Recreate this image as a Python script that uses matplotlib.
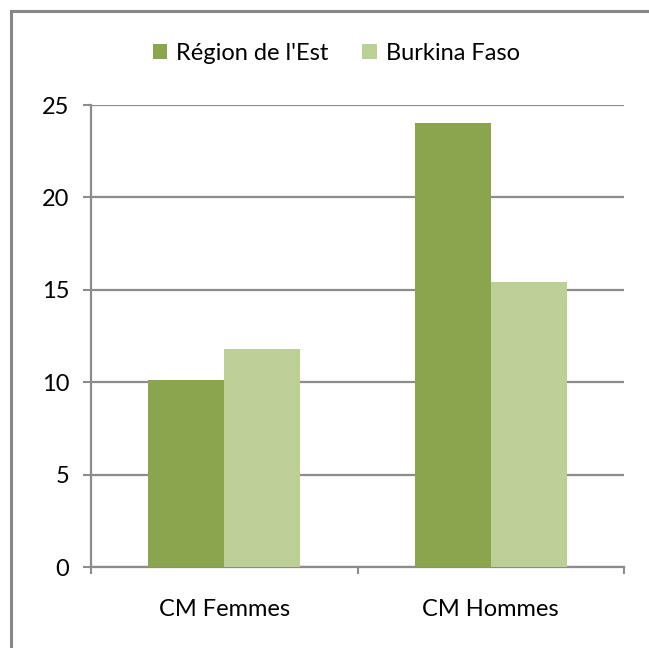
import matplotlib.pyplot as plt
import numpy as np
from matplotlib.patches import Rectangle

plt.rcParams['font.family'] = ['Lato', 'DejaVu Sans']

categories = ['CM Femmes', 'CM Hommes']
series_names = ["Région de l'Est", 'Burkina Faso']
region_est = [10.1, 24.0]
burkina = [11.8, 15.4]
colors = ['#8ba54e', '#bbcf97']
yticks = [0, 5, 10, 15, 20, 25]

W, H = 649, 648
fig = plt.figure(figsize=(W / 100, H / 100), dpi=100)
# plot area in pixels: x 91..624, y 105..567
ax = fig.add_axes([91 / W, 1 - 567 / H, (624 - 91) / W, (567 - 105) / H])

grey = '#8c8c8c'
fs = 17
x = np.arange(len(categories))
bw = 0.285
ax.bar(x - bw / 2, region_est, bw, color=colors[0], label=series_names[0], zorder=3)
ax.bar(x + bw / 2, burkina, bw, color=colors[1], label=series_names[1], zorder=3)

ax.set_xlim(-0.5, len(categories) - 0.5)
ax.set_ylim(0, 25)
ax.set_yticks(yticks)
ax.yaxis.grid(True, color=grey, linewidth=1.6, zorder=0)
ax.set_axisbelow(True)

# category labels centred, ticks on the category boundaries
ax.set_xticks(x)
ax.set_xticklabels(categories, fontsize=fs)
ax.set_xticks(np.arange(-0.5, len(categories)), minor=True)
ax.tick_params(axis='x', which='major', length=0, pad=23)
ax.tick_params(axis='x', which='minor', length=5, width=1.5, color=grey)
ax.tick_params(axis='y', length=5.8, width=1.5, color=grey, labelsize=fs, pad=10)

for s in ['top', 'right']:
    ax.spines[s].set_visible(False)
for s in ['left', 'bottom']:
    ax.spines[s].set_color(grey)
    ax.spines[s].set_linewidth(1.6)

ax.legend(loc='lower center', bbox_to_anchor=(0.46, 1.0), bbox_transform=ax.transAxes,
          ncol=2, frameon=False, fontsize=fs, handlelength=0.6, handleheight=0.6,
          handletextpad=0.38, columnspacing=1.44, borderaxespad=1.35)

# outer chart border (left and top edges visible)
fig.patches.append(Rectangle((10.5 / W, -0.1), 1.2, 1 - 11 / H + 0.1,
                             transform=fig.transFigure, fill=False,
                             edgecolor='#888888', linewidth=2.2))

fig.savefig('out.png', dpi=100)
